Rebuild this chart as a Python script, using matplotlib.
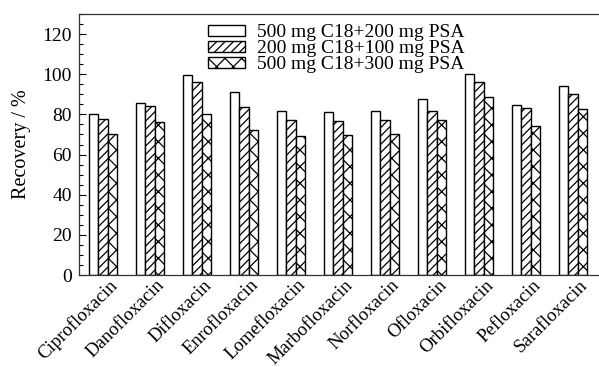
import matplotlib
matplotlib.use('Agg')
import matplotlib.pyplot as plt
import matplotlib.transforms as mtransforms
from matplotlib.ticker import MultipleLocator
import numpy as np

# Dados ================================================================
farmacos = ['Ciprofloxacin', 'Danofloxacin', 'Difloxacin', 'Enrofloxacin',
            'Lomefloxacin', 'Marbofloxacin', 'Norfloxacin', 'Ofloxacin',
            'Orbifloxacin', 'Pefloxacin', 'Sarafloxacin']

rec_500_200 = [80.0, 85.5, 99.6, 91.0, 81.7, 81.3, 81.5, 87.6, 100.0, 84.5, 94.0]
rec_200_100 = [77.5, 84.0, 96.0, 83.5, 77.0, 76.8, 77.0, 81.8, 96.0, 83.0, 90.0]
rec_500_300 = [70.0, 76.0, 80.0, 72.0, 69.0, 69.5, 70.0, 77.0, 88.5, 74.4, 82.8]

rotulos = ['500 mg C18+200 mg PSA', '200 mg C18+100 mg PSA', '500 mg C18+300 mg PSA']

# Grafico ==============================================================
plt.rcParams['font.family'] = 'Liberation Serif'
plt.rcParams['font.size'] = 14
plt.rcParams['hatch.linewidth'] = 0.9

fig = plt.figure(figsize=(5.99, 3.67), dpi=100)
ax = fig.add_axes([79/599, 92/367, 519/599, 261/367])

x = np.arange(len(farmacos))
w = 0.2

ax.bar(x - w, rec_500_200, w, color='white', edgecolor='black', linewidth=1.0, label=rotulos[0])
ax.bar(x, rec_200_100, w, color='white', edgecolor='black', linewidth=1.0, hatch='////', label=rotulos[1])
ax.bar(x + w, rec_500_300, w, color='white', edgecolor='black', linewidth=1.0, hatch='xx', label=rotulos[2])

ax.set_xlim(-0.51, 10.53)
ax.set_ylim(0, 130)

ax.yaxis.set_major_locator(MultipleLocator(20))
ax.yaxis.set_minor_locator(MultipleLocator(5))
ax.set_yticks(np.arange(0, 121, 20))
ax.tick_params(axis='y', which='major', direction='in', length=5, width=0.8, labelsize=14, pad=5)
ax.tick_params(axis='y', which='minor', direction='in', length=3, width=0.8)

ax.set_xticks(x)
ax.set_xticklabels(farmacos, rotation=45, ha='right', rotation_mode='anchor', fontsize=13.5)
ax.tick_params(axis='x', length=0, pad=1)
desloc = mtransforms.ScaledTranslation(6/100, 0, fig.dpi_scale_trans)
for lbl in ax.get_xticklabels():
    lbl.set_transform(lbl.get_transform() + desloc)

for s in ['left', 'bottom', 'top']:
    ax.spines[s].set_linewidth(0.9)
    ax.spines[s].set_color('#333333')
ax.spines['right'].set_visible(False)

ax.set_ylabel('Recovery / %', fontsize=14.5, labelpad=8)

ax.legend(loc='upper left', bbox_to_anchor=(0.2345, 0.99), frameon=False,
          handlelength=1.9, handleheight=0.55, handletextpad=0.6,
          labelspacing=-0.05, borderaxespad=0, fontsize=14)

plt.savefig('out.png', dpi=100)
